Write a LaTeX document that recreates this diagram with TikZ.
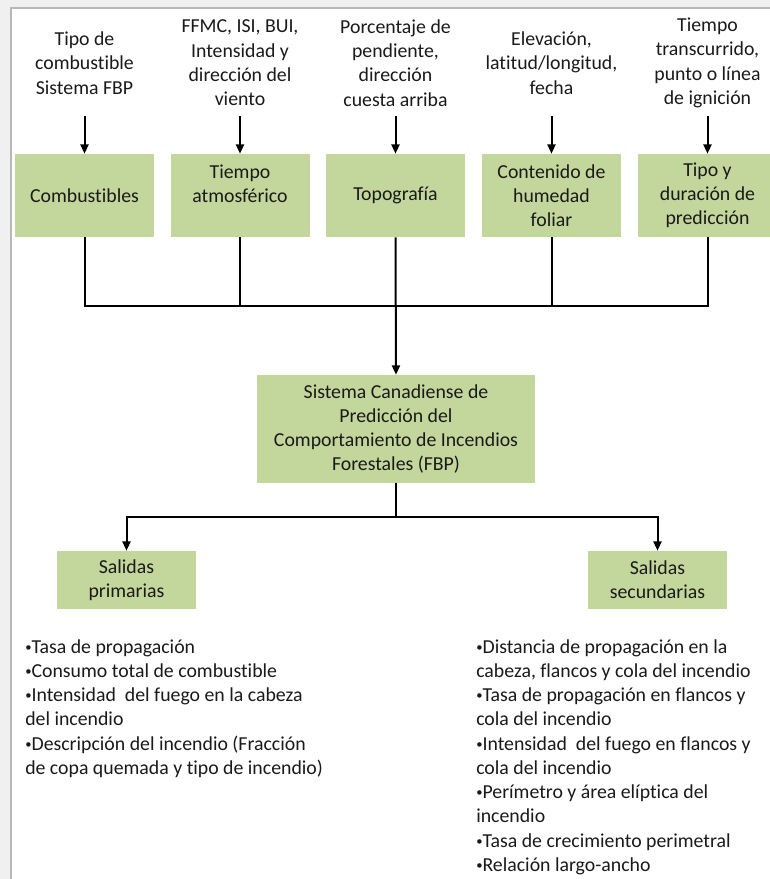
\documentclass[tikz,border=0pt]{standalone}
\usepackage{fontspec}
\setmainfont{Carlito}[Ligatures=NoCommon]
\usetikzlibrary{arrows.meta}
\definecolor{boxgreen}{HTML}{C3D69B}
\definecolor{pagegray}{HTML}{F0F0F0}
\definecolor{framegray}{HTML}{B8B8B8}
\definecolor{ink}{HTML}{1A1A1A}
% small list bullet
\newcommand\itemdot{\raisebox{0.2ex}{\fontsize{9.5pt}{9.5pt}\selectfont\textbullet}}
\begin{document}
\begin{tikzpicture}[x=0.75pt,y=-0.75pt,
  every node/.style={font=\fontsize{14.85pt}{18.2pt}\selectfont, text=ink},
  box/.style={fill=boxgreen, draw=none, align=center, inner sep=2pt},
  topbox/.style={box, minimum width=104.25pt, minimum height=62.25pt},
  outbox/.style={box, minimum width=104.25pt, minimum height=43.5pt},
  intext/.style={align=center, inner sep=0pt},
  listtext/.style={align=left, anchor=north west, inner sep=0pt},
  conn/.style={line width=1.5pt, black},
  arr/.style={conn, -{Triangle[length=7pt,width=6pt]}},
]
\useasboundingbox (0,0) rectangle (770,879);
\fill[pagegray] (0,0) rectangle (770,879);
\begin{scope}
\clip (0,0) rectangle (770,879);
% page frame
\fill[white] (10.5,7.5) rectangle (800,900);
\draw[framegray, line width=1.5pt] (10.5,900) -- (10.5,7.5) -- (800,7.5);

% inputs
\node[intext] (in1) at (84.5,63) {Tipo de\\combustible\\Sistema FBP};
\node[intext] (in2) at (240,63) {FFMC, ISI, BUI,\\Intensidad y\\dirección del\\viento};
\node[intext] (in3) at (395.5,63) {Porcentaje de\\pendiente,\\dirección\\cuesta arriba};
\node[intext] (in4) at (551.5,63) {Elevación,\\latitud/longitud,\\fecha};
\node[intext] (in5) at (707.5,63) {Tiempo\\transcurrido,\\punto o línea\\de ignición};

% input categories (two-line labels sit on the upper lines)
\node[topbox] (b1) at (84.5,195.5) {Combustibles};
\node[topbox] (b2) at (240,195.5) {Tiempo\\atmosférico\\\mbox{}};
\node[topbox] (b3) at (395.5,195.5) {Topografía};
\node[topbox] (b4) at (551.5,195.5) {Contenido de\\humedad\\foliar};
\node[topbox] (b5) at (707.5,195.5) {Tipo y\\duración de\\predicción};

% FBP system
\node[box, minimum width=208.5pt, minimum height=81pt] (fbp) at (396,429)
  {Sistema Canadiense de\\Predicción del\\Comportamiento de Incendios\\Forestales (FBP)};

% outputs
\node[outbox] (prim) at (126.5,580) {Salidas\\primarias};
\node[outbox] (sec) at (657.5,580) {Salidas\\secundarias};

\node[listtext] (lprim) at (25,639) {\itemdot Tasa de propagación\\
\itemdot Consumo total de combustible\\
\itemdot Intensidad\ \ del fuego en la cabeza\\
del incendio\\
\itemdot Descripción del incendio (Fracción\\
de copa quemada y tipo de incendio)};

\node[listtext] (lsec) at (476,639) {\itemdot Distancia de propagación en la\\
cabeza, flancos y cola del incendio\\
\itemdot Tasa de propagación en flancos y\\
cola del incendio\\
\itemdot Intensidad\ \ del fuego en flancos y\\
cola del incendio\\
\itemdot Perímetro y área elíptica del\\
incendio\\
\itemdot Tasa de crecimiento perimetral\\
\itemdot Relación largo-ancho};

% connectors
\coordinate (feedtop) at (0,116);
\coordinate (bus) at (0,306);
\coordinate (split) at (0,517);
\foreach \b in {b1,b2,b3,b4,b5}
  \draw[arr] (\b |- feedtop) -- (\b);
\draw[conn] (b1.south) |- (b5.south |- bus) -- (b5.south);
\draw[conn] (b2.south) -- (b2.south |- bus);
\draw[conn] (b4.south) -- (b4.south |- bus);
\draw[arr] (b3.south) -- (fbp.north);
\draw[conn] (fbp.south) -- (fbp.south |- split);
\draw[arr] (fbp.south |- split) -| (prim.north);
\draw[arr] (fbp.south |- split) -| (sec.north);
\end{scope}
\end{tikzpicture}
\end{document}
